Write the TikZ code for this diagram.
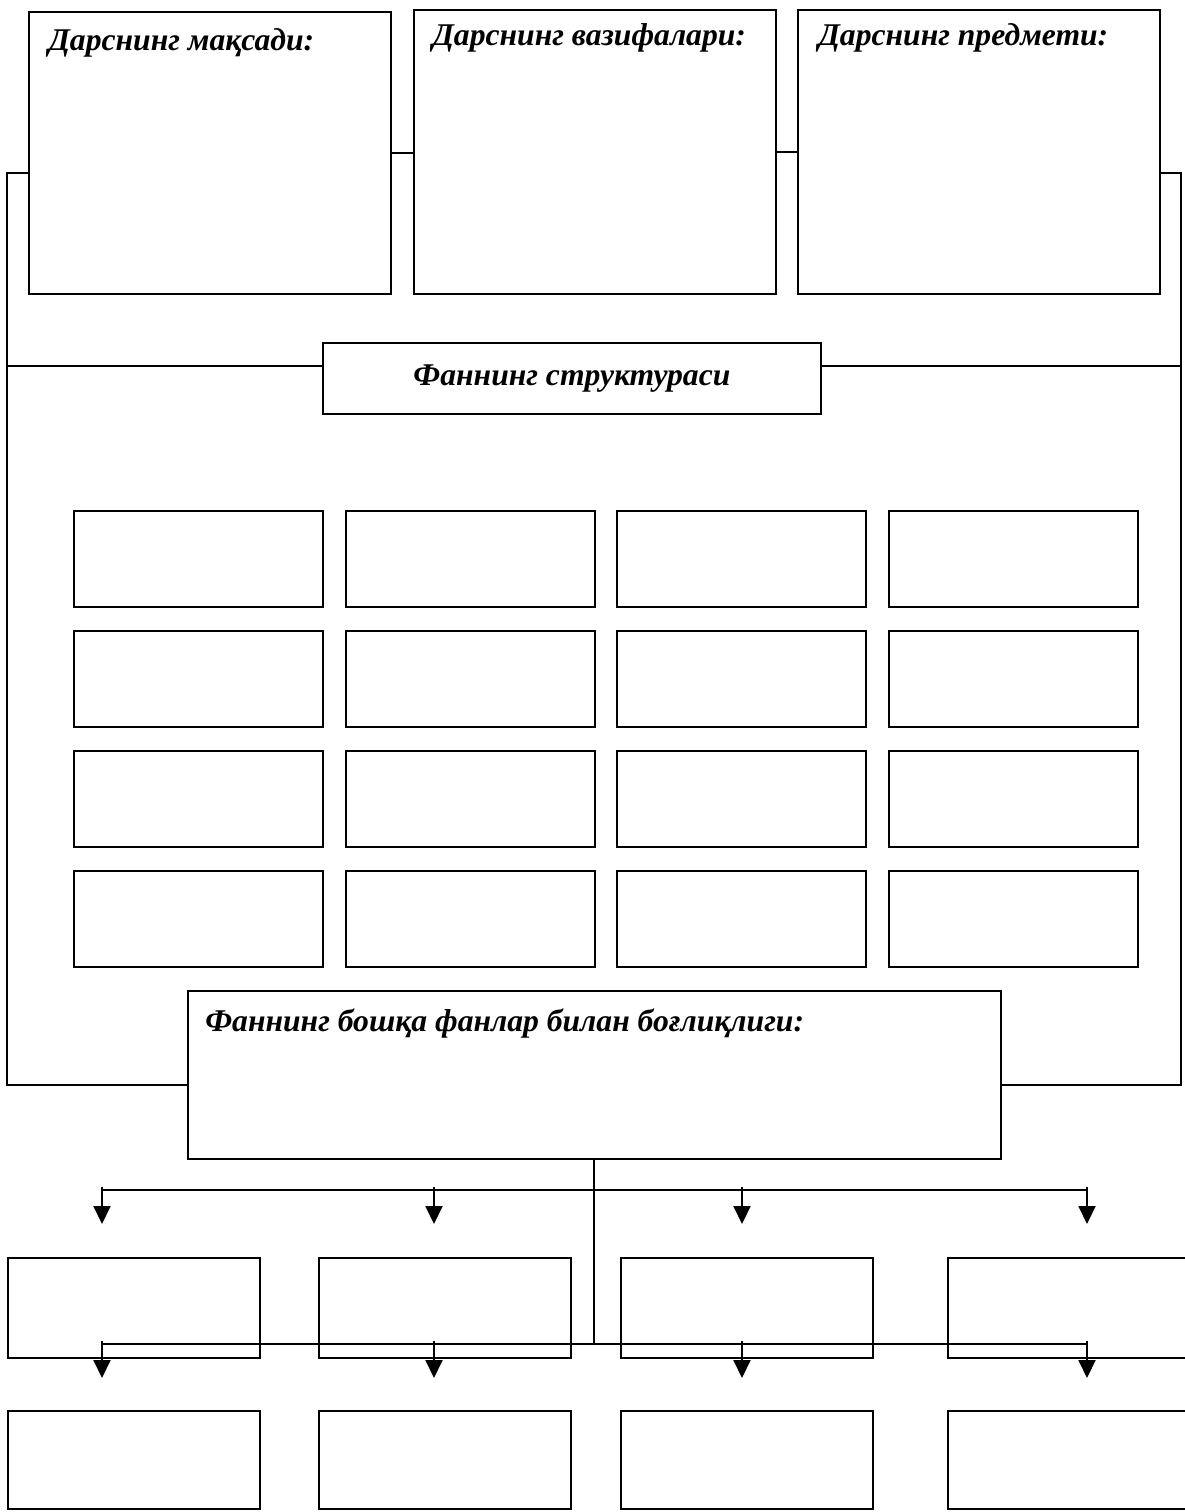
\documentclass[tikz,border=0pt]{standalone}
\usepackage{fontspec}
\setmainfont{Liberation Serif}
\usepackage{tikz}
\usetikzlibrary{arrows.meta}
\definecolor{mydark}{RGB}{0,0,0}
\tikzset{
  box/.style={rectangle, draw=mydark, fill=white, inner sep=0pt,
    anchor=north west, line width=1.1pt},
  bigbox/.style={box, minimum width=7.24cm, minimum height=5.64cm},
  cell/.style={box, minimum width=4.98cm, minimum height=1.92cm},
  leaf/.style={box, minimum width=5.04cm, minimum height=2cm},
  caption/.style={anchor=base west, inner sep=0pt,
    font=\bfseries\itshape\fontsize{18}{22}\selectfont},
  arrow/.style={-{Triangle[width=0.34cm, length=0.36cm]}, line width=1.1pt, color=mydark},
  line/.style={line width=1.1pt, color=mydark},
  thinline/.style={line width=0.6pt, color=mydark}
}
\begin{document}
\begin{tikzpicture}[x=0.02cm, y=-0.02cm]
  \useasboundingbox (0,0) rectangle (1184,1512);

  % Top row: aim, tasks, subject of the lesson
  \node[bigbox] (maqsad) at (28, 11) {};
  \node[bigbox, minimum height=5.68cm] (vazifa) at (413, 9) {};
  \node[bigbox, minimum height=5.68cm] (predmet) at (797, 9) {};
  \node[caption] (tmaqsad) at (48, 50) {Дарснинг мақсади:};
  \node[caption] (tvazifa) at (432, 45) {Дарснинг вазифалари:};
  \node[caption] (tpredmet) at (818, 45) {Дарснинг предмети:};

  \draw[line] (maqsad.east) -- (maqsad.east -| vazifa.west);
  \draw[line] (vazifa.east) -- (vazifa.east -| predmet.west);

  % Structure of the subject
  \node[box, minimum width=9.96cm, minimum height=1.42cm,
    font=\bfseries\itshape\fontsize{18}{22}\selectfont] (struktura) at (322, 342) {Фаннинг структураси};

  % Outer frame
  \coordinate (ltop) at (7, 173);
  \coordinate (lmid) at (7, 366);
  \coordinate (lbot) at (7, 1085);
  \coordinate (rtop) at (1181, 173);
  \coordinate (rmid) at (1181, 366);
  \coordinate (rbot) at (1181, 1085);
  \draw[line] (maqsad.west |- ltop) -- (ltop) -- (lbot) -- (187, 1085);
  \draw[line] (predmet.east |- rtop) -- (rtop) -- (rbot) -- (1000, 1085);
  \draw[line] (lmid) -- (struktura.west |- lmid);
  \draw[line] (struktura.east |- rmid) -- (rmid);

  % Grid of empty cells
  \foreach \i/\x in {1/73, 2/345, 3/616, 4/888}
    \foreach \j/\y in {1/510, 2/630, 3/750, 4/870}
      \node[cell] (c\j\i) at (\x, \y) {};

  % Links with other subjects
  \node[box, minimum width=16.26cm, minimum height=3.36cm] (boglik) at (187, 990) {};
  \node[caption] (tboglik) at (205, 1031) {Фаннинг бошқа фанлар билан боғлиқлиги:};

  % Bottom rows of empty boxes
  \foreach \i/\x in {1/7, 2/318, 3/620, 4/947} {
    \node[leaf] (u\i) at (\x, 1257) {};
    \node[leaf, minimum height=1.96cm] (d\i) at (\x, 1410) {};
  }

  % Branching
  \coordinate (hub) at (594, 1344);
  \draw[thinline] (boglik.south -| hub) -- (hub);
  \draw[line] (102, 1190) -- (1087, 1190);
  \draw[thinline] (102, 1344) -- (1087, 1344);
  \foreach \x in {102, 434, 742, 1087} {
    \draw[arrow] (\x, 1187) -- (\x, 1224);
    \draw[arrow] (\x, 1341) -- (\x, 1378);
  }
\end{tikzpicture}
\end{document}
